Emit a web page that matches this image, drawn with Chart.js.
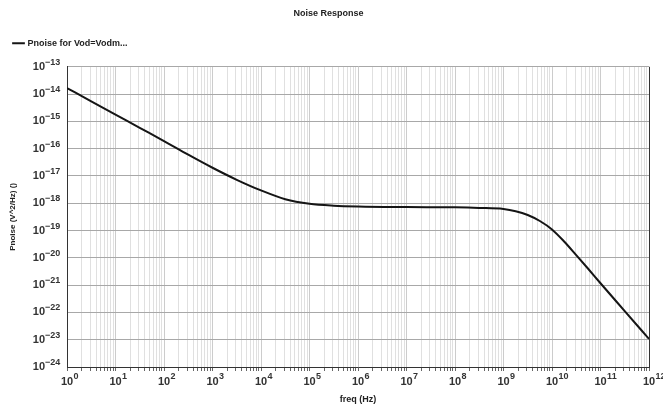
<!DOCTYPE html>
<html lang="en">
  <head>
    <meta charset="UTF-8" />
    <title>Noise Response</title>
    <style>
      html, body { margin: 0; padding: 0; background: #fff; }
      .plot { width: 663px; height: 406px; }
    </style>
  </head>
  <body>
    <div class="plot">
      <canvas id="noiseChart"></canvas>
    </div>

    <script src="https://cdn.jsdelivr.net/npm/chart.js@4.4.1/dist/chart.umd.min.js"></script>
    <script>
      // values (freq in Hz, Pnoise in V^2/Hz)
      const freq = [
        1, 3.16, 10, 31.6, 100, 316, 1000, 3162, 1e4, 31623, 1e5, 316228,
        1e6, 1e7, 1e8, 3.16e8, 1e9, 1.78e9, 3.16e9, 5.62e9, 1e10, 1.78e10,
        3.16e10, 5.62e10, 1e11, 3.16e11, 1e12,
      ];
      const pnoise = [
        1.66e-14, 5.43e-15, 1.78e-15, 5.82e-16, 1.91e-16, 6.03e-17, 2.0e-17,
        7.24e-18, 2.95e-18, 1.41e-18, 9.55e-19, 8.13e-19, 7.59e-19, 7.24e-19,
        7.08e-19, 6.76e-19, 6.17e-19, 5.13e-19, 3.72e-19, 2.24e-19, 1.1e-19,
        3.98e-20, 1.26e-20, 3.89e-21, 1.17e-21, 1.12e-22, 1.07e-23,
      ];
      // tick exponents (labels are 10^n)
      const xDecades = [0, 1, 2, 3, 4, 5, 6, 7, 8, 9, 10, 11, 12];
      const yDecades = [-13, -14, -15, -16, -17, -18, -19, -20, -21, -22, -23, -24];

      function decadeOf(v) {
        const l = Math.log10(v);
        const r = Math.round(l);
        return Math.abs(l - r) < 1e-6 ? r : null;
      }

      const labelFont = { family: "Liberation Sans", size: 11, weight: "bold" };
      const smallFont = { family: "Liberation Sans", size: 9, weight: "bold" };
      const expFont = "bold 9px 'Liberation Sans'";

      // draws the raised exponent next to each "10" tick label
      const exponents = {
        id: "exponents",
        afterDraw(chart) {
          const ctx = chart.ctx;
          const xs = chart.scales.x;
          const ys = chart.scales.y;
          ctx.save();
          ctx.font = "bold 11px 'Liberation Sans'";
          const w = ctx.measureText("10").width;
          ctx.font = expFont;
          ctx.fillStyle = "#333";
          ctx.textAlign = "left";
          ctx.textBaseline = "alphabetic";
          xDecades.forEach((n) => {
            const px = xs.getPixelForValue(Math.pow(10, n));
            ctx.fillText(String(n), px + w / 2 + 0.5, xs.top + 12);
          });
          yDecades.forEach((n) => {
            const py = ys.getPixelForValue(parseFloat("1e" + n));
            ctx.fillText(String(n).replace("-", "\u2212"), ys.right - 22, py - 2);
          });
          ctx.restore();
        },
      };

      // extra gap under the legend
      const legendGap = {
        id: "legendGap",
        beforeInit(chart) {
          const fit = chart.legend.fit;
          chart.legend.fit = function () {
            fit.bind(chart.legend)();
            this.height += 9;
          };
        },
      };

      const points = freq.map((f, i) => ({ x: f, y: pnoise[i] }));

      new Chart(document.getElementById("noiseChart"), {
        type: "line",
        data: {
          datasets: [
            {
              label: "Pnoise for Vod=Vodm...",
              data: points,
              borderColor: "#151515",
              backgroundColor: "#151515",
              borderWidth: 2,
              pointRadius: 0,
              cubicInterpolationMode: "monotone",
              fill: false,
            },
          ],
        },
        plugins: [legendGap, exponents],
        options: {
          responsive: true,
          maintainAspectRatio: false,
          animation: false,
          layout: { padding: { left: 8, right: 14, top: 0, bottom: 1 } },
          plugins: {
            title: {
              display: true,
              text: "Noise Response",
              color: "#222",
              font: smallFont,
              padding: { top: 8, bottom: 14 },
            },
            legend: {
              display: true,
              align: "start",
              labels: {
                usePointStyle: true,
                pointStyle: "line",
                boxWidth: 10,
                color: "#222",
                font: smallFont,
                padding: 6,
              },
            },
            tooltip: { enabled: false },
          },
          scales: {
            x: {
              type: "logarithmic",
              min: 1,
              max: 1e12,
              afterBuildTicks: (scale) => {
                const t = [];
                xDecades.forEach((n) => {
                  if (n === 12) {
                    t.push({ value: 1e12 });
                    return;
                  }
                  for (let m = 1; m <= 9; m++) t.push({ value: m * Math.pow(10, n) });
                });
                scale.ticks = t;
              },
              afterFit: (scale) => {
                scale.height = 38;
              },
              ticks: {
                autoSkip: false,
                maxRotation: 0,
                color: "#333",
                font: labelFont,
                padding: 4,
                callback: (v) => (decadeOf(v) === null ? "" : "10"),
              },
              grid: {
                color: (c) => {
                  const v = c.tick ? c.tick.value : 0;
                  if (v >= 1e12) return "#333";
                  return decadeOf(v) === null ? "#e0e0e0" : "#cccccc";
                },
                tickLength: 4,
                tickColor: "#666",
              },
              border: { color: "#333", width: 1 },
              title: {
                display: true,
                text: "freq (Hz)",
                color: "#222",
                font: smallFont,
                padding: { top: 0, bottom: 0 },
              },
            },
            y: {
              type: "logarithmic",
              min: 1e-24,
              max: 1e-13,
              afterBuildTicks: (scale) => {
                scale.ticks = yDecades.map((n) => ({ value: parseFloat("1e" + n) }));
              },
              afterFit: (scale) => {
                scale.width = 59;
              },
              ticks: {
                autoSkip: false,
                color: "#333",
                font: labelFont,
                padding: 22,
                callback: (v) => (decadeOf(v) === null ? "" : "10"),
              },
              grid: { color: "#a8a8a8", tickLength: 0, tickColor: "#666" },
              border: { color: "#333", width: 1 },
              title: {
                display: true,
                text: "Pnoise (V^2/Hz) ()",
                color: "#222",
                font: { family: "Liberation Sans", size: 8, weight: "bold" },
                padding: { top: 0, bottom: 0 },
              },
            },
          },
        },
      });
    </script>
  </body>
</html>
